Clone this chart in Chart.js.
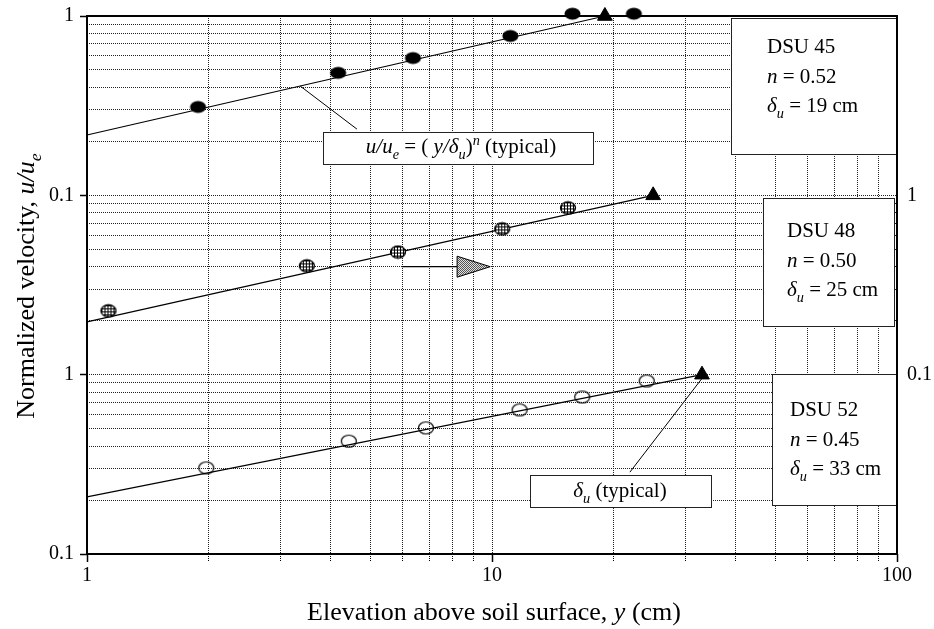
<!DOCTYPE html>
<html>
<head>
<meta charset="utf-8">
<script src="https://cdn.jsdelivr.net/npm/chart.js@4.4.1/dist/chart.umd.min.js"></script>
<style>
html, body { margin: 0; padding: 0; background: #fff; }
</style>
</head>
<body>
<canvas id="chart" width="934" height="629"></canvas>
<script>
// elevation y (cm) and normalized velocity u/ue
const dsu45Y = [1.88, 4.17, 6.38, 11.1, 15.8, 22.4];
const dsu45U = [0.311, 0.482, 0.583, 0.774, 1.03, 1.03];
const dsu48Y = [1.13, 3.49, 5.86, 10.6, 15.4];
const dsu48U = [0.227, 0.404, 0.483, 0.65, 0.851];
const dsu52Y = [1.97, 4.43, 6.87, 11.7, 16.7, 24.1];
const dsu52U = [0.302, 0.426, 0.505, 0.636, 0.751, 0.922];

// power-law fits: delta_u (end of line, u/ue = 1) and u/ue at y = 1 cm
const profiles = ['DSU 45', 'DSU 48', 'DSU 52'];
const expN = ['0.52', '0.50', '0.45'];
const deltaU = [19, 25, 33];
const fitAtOne = [0.217, 0.197, 0.208];
const shift = [100, 10, 1];   // each profile moved up one decade on the shared axis

// ticks
const xTickLabels = ['1', '10', '100'];
const xLabelValues = [1, 10, 100];
const yLeftValues = [0.1, 1, 10, 100];
const yLeftLabels = ['0.1', '1', '0.1', '1'];
const yRightValues = [1, 10];
const yRightLabels = ['0.1', '1'];

const SERIF = '"Liberation Serif", "Times New Roman", serif';

function logTicks(from, to) {
    const out = [];
    for (let d = from; d < to * 0.999; d *= 10) {
        for (let k = 1; k <= 9; k++) out.push(d * k);
    }
    out.push(to);
    return out;
}

function findLabel(values, labels, v) {
    for (let i = 0; i < values.length; i++) {
        if (Math.abs(v - values[i]) < values[i] * 1e-6) return labels[i];
    }
    return '';
}

function isMajor(values, v) {
    return findLabel(values, values.map(() => 'x'), v) !== '';
}

function makeMarker(w, h, kind) {
    const c = document.createElement('canvas');
    c.width = w + 3;
    c.height = h + 3;
    const g = c.getContext('2d');
    const cx = c.width / 2, cy = c.height / 2;
    g.beginPath();
    g.ellipse(cx, cy, w / 2, h / 2, 0, 0, Math.PI * 2);
    if (kind === 'solid') {
        g.fillStyle = '#000';
        g.fill();
    } else if (kind === 'hatch') {
        g.save();
        g.clip();
        g.fillStyle = '#fff';
        g.fillRect(0, 0, c.width, c.height);
        g.strokeStyle = '#000';
        g.lineWidth = 1;
        for (let i = 2.5; i < c.width; i += 3) {
            g.beginPath(); g.moveTo(i, 0); g.lineTo(i, c.height); g.stroke();
        }
        for (let i = 2.5; i < c.height; i += 3) {
            g.beginPath(); g.moveTo(0, i); g.lineTo(c.width, i); g.stroke();
        }
        g.restore();
        g.beginPath();
        g.ellipse(cx, cy, w / 2, h / 2, 0, 0, Math.PI * 2);
        g.lineWidth = 1.3;
        g.strokeStyle = '#000';
        g.stroke();
    } else {
        g.lineWidth = 1.2;
        g.strokeStyle = '#000';
        g.stroke();
    }
    return c;
}

const markers = [makeMarker(16, 12, 'solid'), makeMarker(15, 12, 'hatch'), makeMarker(15, 12, 'open')];
const seriesY = [dsu45Y, dsu48Y, dsu52Y];
const seriesU = [dsu45U, dsu48U, dsu52U];

const datasets = [];
for (let p = 0; p < 3; p++) {
    datasets.push({
        label: profiles[p],
        data: seriesY[p].map((y, i) => ({x: y, y: seriesU[p][i] * shift[p]})),
        pointStyle: markers[p],
        pointRadius: 7,
        clip: false,
        order: 1
    });
    datasets.push({
        label: profiles[p] + ' delta',
        data: [{x: deltaU[p], y: shift[p]}],
        pointStyle: 'triangle',
        pointRadius: 8.5,
        backgroundColor: '#000',
        borderColor: '#000',
        borderWidth: 1,
        clip: false,
        order: 1
    });
    datasets.push({
        label: profiles[p] + ' fit',
        data: [{x: 1, y: fitAtOne[p] * shift[p]}, {x: deltaU[p], y: shift[p]}],
        showLine: true,
        pointRadius: 0,
        borderColor: '#000',
        borderWidth: 1.2,
        clip: false,
        order: 2
    });
}

function richDraw(ctx, runs, x, y, size, align) {
    const parts = runs.map(r => {
        const s = (r.sub || r.sup) ? size * 0.68 : size;
        ctx.font = (r.i ? 'italic ' : '') + s + 'px ' + SERIF;
        return {r: r, s: s, w: ctx.measureText(r.t).width};
    });
    const total = parts.reduce((a, p) => a + p.w, 0);
    let cx = align === 'center' ? x - total / 2 : x;
    ctx.textAlign = 'left';
    ctx.textBaseline = 'alphabetic';
    ctx.fillStyle = '#000';
    parts.forEach(p => {
        ctx.font = (p.r.i ? 'italic ' : '') + p.s + 'px ' + SERIF;
        const dy = p.r.sub ? size * 0.28 : (p.r.sup ? -size * 0.4 : 0);
        ctx.fillText(p.r.t, cx, y + dy);
        cx += p.w;
    });
}

function box(ctx, x1, y1, x2, y2) {
    ctx.fillStyle = '#fff';
    ctx.fillRect(x1, y1, x2 - x1, y2 - y1);
    ctx.strokeStyle = '#222';
    ctx.lineWidth = 1;
    ctx.strokeRect(x1 + 0.5, y1 + 0.5, x2 - x1, y2 - y1);
}

function stipple(ctx) {
    const c = document.createElement('canvas');
    c.width = 2; c.height = 2;
    const g = c.getContext('2d');
    g.fillStyle = '#e0e0e0';
    g.fillRect(0, 0, 2, 2);
    g.fillStyle = '#555';
    g.fillRect(0, 0, 1, 1);
    g.fillRect(1, 1, 1, 1);
    return ctx.createPattern(c, 'repeat');
}

const notes = {
    id: 'notes',
    afterDatasetsDraw(chart) {
        const ctx = chart.ctx;
        const xs = chart.scales.x, ys = chart.scales.y;
        const px = v => xs.getPixelForValue(v);
        const py = v => ys.getPixelForValue(v);
        ctx.save();

        // leader lines
        ctx.strokeStyle = '#000';
        ctx.lineWidth = 1;
        ctx.beginPath();
        ctx.moveTo(px(3.36), py(40.7));
        ctx.lineTo(px(4.64), py(23.4));
        ctx.moveTo(px(21.9), py(0.286));
        ctx.lineTo(px(33.2), py(0.97));
        ctx.stroke();

        // arrow pointing right
        const ay = py(4.0);
        ctx.beginPath();
        ctx.moveTo(px(6.0), ay);
        ctx.lineTo(px(8.2), ay);
        ctx.lineWidth = 1.3;
        ctx.stroke();
        ctx.beginPath();
        ctx.moveTo(px(8.2), ay - 10.5);
        ctx.lineTo(px(9.9), ay);
        ctx.lineTo(px(8.2), ay + 10.5);
        ctx.closePath();
        ctx.fillStyle = stipple(ctx);
        ctx.fill();
        ctx.lineWidth = 1;
        ctx.strokeStyle = '#000';
        ctx.stroke();

        // label boxes
        box(ctx, 323, 132, 593, 164);
        richDraw(ctx, [{t: 'u/u', i: true}, {t: 'e', i: true, sub: true}, {t: ' = ( '},
            {t: 'y/δ', i: true}, {t: 'u', i: true, sub: true}, {t: ')'}, {t: 'n', i: true, sup: true},
            {t: ' (typical)'}], 461, 153, 21, 'center');

        box(ctx, 530, 475, 711, 507);
        richDraw(ctx, [{t: 'δ', i: true}, {t: 'u', i: true, sub: true}, {t: ' (typical)'}], 620, 497, 21, 'center');

        const boxes = [[731, 18, 897, 154, 767, 53], [763, 198, 894, 326, 787, 237], [772, 374, 897, 505, 790, 416]];
        boxes.forEach((b, p) => {
            box(ctx, b[0], b[1], b[2], b[3]);
            richDraw(ctx, [{t: profiles[p]}], b[4], b[5], 21, 'left');
            richDraw(ctx, [{t: 'n', i: true}, {t: ' = ' + expN[p]}], b[4], b[5] + 30, 21, 'left');
            richDraw(ctx, [{t: 'δ', i: true}, {t: 'u', i: true, sub: true}, {t: ' = ' + deltaU[p] + ' cm'}], b[4], b[5] + 59, 21, 'left');
        });

        // frame
        const a = chart.chartArea;
        ctx.strokeStyle = '#000';
        ctx.lineWidth = 2;
        ctx.strokeRect(a.left, a.top, a.right - a.left, a.bottom - a.top);

        // axis titles
        richDraw(ctx, [{t: 'Elevation above soil surface, '}, {t: 'y', i: true}, {t: ' (cm)'}], 494, 620, 26, 'center');
        ctx.translate(34, 286);
        ctx.rotate(-Math.PI / 2);
        richDraw(ctx, [{t: 'Normalized velocity, '}, {t: 'u/u', i: true}, {t: 'e', i: true, sub: true}], 0, 0, 26, 'center');
        ctx.restore();
    }
};

const tickFont = {family: SERIF, size: 20};

function fixSize(w, h) {
    return s => {
        if (w) s.width = w;
        if (h) s.height = h;
        s.paddingTop = 0;
        s.paddingBottom = 0;
        s.paddingLeft = 0;
        s.paddingRight = 0;
    };
}

const chart = new Chart(document.getElementById('chart'), {
    type: 'scatter',
    data: {datasets: datasets},
    options: {
        responsive: false,
        animation: false,
        layout: {padding: {top: 16, left: 0, right: 0, bottom: 0}},
        plugins: {legend: {display: false}, tooltip: {enabled: false}},
        scales: {
            x: {
                type: 'logarithmic',
                position: 'bottom',
                min: 1,
                max: 100,
                afterBuildTicks: s => { s.ticks = logTicks(1, 100).map(v => ({value: v})); },
                afterFit: fixSize(0, 75),
                ticks: {
                    autoSkip: false,
                    maxRotation: 0,
                    padding: 2,
                    color: '#000',
                    font: tickFont,
                    callback: v => findLabel(xLabelValues, xTickLabels, v)
                },
                border: {display: false, dash: [1, 1]},
                grid: {
                    color: '#222',
                    lineWidth: 1,
                    tickLength: 8,
                    tickColor: '#000',
                    tickWidth: c => isMajor(xLabelValues, c.tick.value) ? 1.5 : 1,
                    tickBorderDash: c => isMajor(xLabelValues, c.tick.value) ? [] : [1, 1]
                }
            },
            y: {
                type: 'logarithmic',
                position: 'left',
                min: 0.1,
                max: 100,
                afterBuildTicks: s => { s.ticks = logTicks(0.1, 100).map(v => ({value: v})); },
                afterFit: fixSize(87, 0),
                ticks: {
                    autoSkip: false,
                    padding: 6,
                    color: '#000',
                    font: tickFont,
                    callback: v => findLabel(yLeftValues, yLeftLabels, v)
                },
                border: {display: false, dash: [1, 1]},
                grid: {
                    color: '#222',
                    lineWidth: 1,
                    tickLength: 7,
                    tickWidth: 1.5,
                    tickColor: c => isMajor(yLeftValues, c.tick.value) ? '#000' : 'rgba(0,0,0,0)'
                }
            },
            y2: {
                type: 'logarithmic',
                position: 'right',
                min: 0.1,
                max: 100,
                afterBuildTicks: s => { s.ticks = yRightValues.map(v => ({value: v})); },
                afterFit: fixSize(37, 0),
                ticks: {
                    autoSkip: false,
                    padding: 10,
                    color: '#000',
                    font: tickFont,
                    callback: v => findLabel(yRightValues, yRightLabels, v)
                },
                border: {display: false},
                grid: {drawOnChartArea: false, drawTicks: false}
            }
        }
    },
    plugins: [notes]
});
</script>
</body>
</html>
